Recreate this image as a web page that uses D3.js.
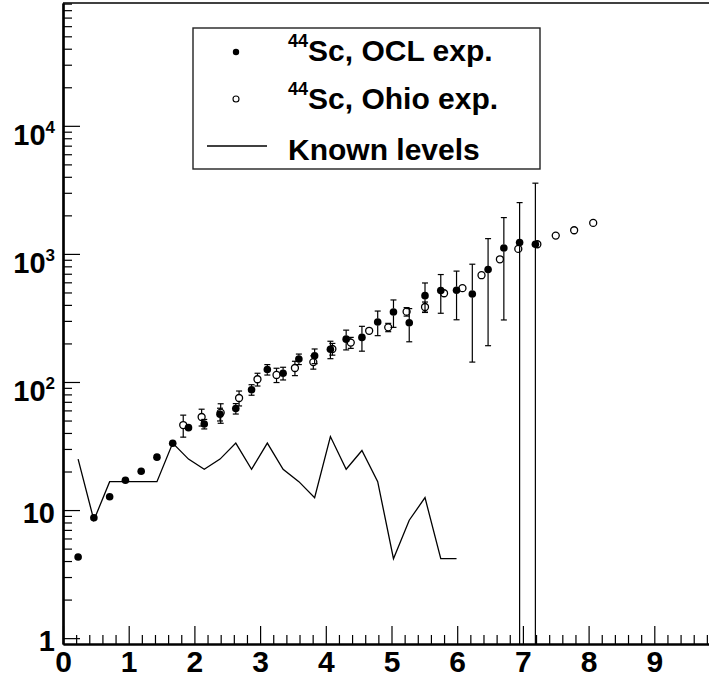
<!DOCTYPE html>
<html><head><meta charset="utf-8">
<script src="https://cdn.jsdelivr.net/npm/d3@7"></script>
<style>
html,body{margin:0;padding:0;background:#fff;}
svg{display:block;}
</style></head><body>
<svg id="chart" width="709" height="680"></svg>
<script>
// ---- data ----
const oclEnergy = [0.23,0.47,0.71,0.95,1.19,1.43,1.67,1.91,2.15,2.39,2.63,2.87,3.11,3.35,3.59,3.83,4.07,4.31,4.55,4.79,5.03,5.27,5.51,5.75,5.99,6.23,6.47,6.71,6.95,7.19];
const oclValue  = [4.3,8.7,12.7,17.1,20.1,25.9,33.2,44,47,56,62,87,125,117,151,160,180,216,223,294,352,290,472,517,520,487,754,1113,1225,1190];
const oclError  = [0,0,0,0,0,0,0,2,4,6.4,5.8,8.2,11.7,13.3,14.2,21,28,38,49,64,85,84,121,173,214,344,562,808,1290,2377];

const ohioEnergy = [1.83,2.11,2.40,2.68,2.96,3.25,3.53,3.81,4.10,4.38,4.66,4.95,5.23,5.51,5.80,6.08,6.37,6.65,6.93,7.22,7.50,7.78,8.07];
const ohioValue  = [46.1,53.3,57.6,75,105,113.5,128.6,143,181,203,251,267,354,385,493,540,682,908,1094,1190,1390,1530,1746];
const ohioError  = [9,8,10,10,12,14.5,16.5,17,19,20,15,20,27,36,0,0,0,0,0,0,0,0,0];

const knownEnergy = [0.23,0.47,0.71,0.95,1.19,1.43,1.67,1.91,2.15,2.39,2.63,2.87,3.11,3.35,3.59,3.83,4.07,4.31,4.55,4.79,5.03,5.27,5.51,5.75,5.99];
const knownValue  = [25,8.33,16.67,16.67,16.67,16.67,33.33,25,20.83,25,33.33,20.83,33.33,20.83,16.67,12.5,37.5,20.83,29.17,16.67,4.17,8.33,12.5,4.17,4.17];

const xTickValues = [0,1,2,3,4,5,6,7,8,9];
const xMinorTicks = [0.2,0.4,0.6,0.8,1.2,1.4,1.6,1.8,2.2,2.4,2.6,2.8,3.2,3.4,3.6,3.8,4.2,4.4,4.6,4.8,5.2,5.4,5.6,5.8,6.2,6.4,6.6,6.8,7.2,7.4,7.6,7.8,8.2,8.4,8.6,8.8,9.2,9.4,9.6,9.8];
const yTickValues = [1,10,100,1000,10000];
const yTickBase = ["1","10","10","10","10"];
const yTickExp  = ["","","2","3","4"];
const yMinorMantissa = [2,3,4,5,6,7,8,9];
const legendSup = ["44","44",""];
const legendText = ["Sc, OCL exp.","Sc, Ohio exp.","Known levels"];

// ---- drawing ----
const svg = d3.select("#chart");
const FONT = "'Liberation Sans Narrow','Liberation Sans',Arial,sans-serif";
const FONT2 = "'Liberation Sans',Arial,sans-serif";

const x = d3.scaleLinear().domain([0,10]).range([63,720]);
const y = d3.scaleLog().domain([0.9,91000]).range([644,3]);

const defs = svg.append("defs");
defs.append("clipPath").attr("id","plotclip").append("rect")
  .attr("x",63).attr("y",3).attr("width",657).attr("height",641);

const yMinor = [];
[1,10,100,1000,10000].forEach(dec => yMinorMantissa.forEach(m => { const v=m*dec; if (v<91000) yMinor.push(v); }));

const gxMinor = svg.append("g").attr("transform","translate(0,644)")
  .call(d3.axisBottom(x).tickValues(xMinorTicks).tickSizeInner(-9).tickSizeOuter(0).tickFormat(""));
const gxMajor = svg.append("g").attr("transform","translate(0,644)")
  .call(d3.axisBottom(x).tickValues(xTickValues).tickSizeInner(-18).tickSizeOuter(0).tickPadding(7).tickFormat(d => String(d)));
const gyMinor = svg.append("g").attr("transform","translate(63,0)")
  .call(d3.axisLeft(y).tickValues(yMinor).tickSizeInner(-9).tickSizeOuter(0).tickFormat(""));
const gyMajor = svg.append("g").attr("transform","translate(63,0)")
  .call(d3.axisLeft(y).tickValues(yTickValues).tickSizeInner(-17).tickSizeOuter(0).tickPadding(8).tickFormat(() => ""));

[gxMinor,gxMajor,gyMinor,gyMajor].forEach(g => {
  g.selectAll(".tick line").attr("stroke","#000").attr("stroke-width",1.2);
  g.select(".domain").attr("stroke","#000").attr("stroke-width",2.2);
});

gxMajor.selectAll(".tick text")
  .attr("font-family",FONT).attr("font-weight","bold").attr("font-size",30)
  .attr("fill","#000");

gyMajor.selectAll(".tick text").each(function(d,i){
  const t = d3.select(this).attr("dy",null).attr("font-family",FONT).attr("font-weight","bold").attr("fill","#000").attr("text-anchor","end");
  if (yTickExp[i]) {
    t.append("tspan").attr("font-size",29).attr("dy",19).text(yTickBase[i]);
    t.append("tspan").attr("font-size",17).attr("dy",-12).text(yTickExp[i]);
  } else {
    t.append("tspan").attr("font-size",29).attr("dy",12.5).text(yTickBase[i]);
  }
});

svg.append("line").attr("x1",63).attr("x2",720).attr("y1",3).attr("y2",3)
  .attr("stroke","#000").attr("stroke-width",1.6);

const plot = svg.append("g").attr("clip-path","url(#plotclip)");

const kn = knownEnergy.map((e,i)=>[e,knownValue[i]]);
plot.append("path").datum(kn)
  .attr("d", d3.line().x(d=>x(d[0])).y(d=>y(d[1])))
  .attr("fill","none").attr("stroke","#000").attr("stroke-width",1.3);

function drawErrors(E,V,Er,r){
  const g = plot.append("g").attr("stroke","#000").attr("stroke-width",1.2);
  E.forEach((e,i)=>{
    const v=V[i], er=Er[i];
    if (!er) return;
    const xc = x(e), yc = y(v), yt = y(v+er);
    const yb = (v-er>0.5) ? y(v-er) : 700;
    if (yc - r > yt) {
      g.append("line").attr("x1",xc).attr("x2",xc).attr("y1",yt).attr("y2",yc-r);
      g.append("line").attr("x1",xc-3).attr("x2",xc+3).attr("y1",yt).attr("y2",yt);
    }
    if (yb > yc + r) {
      g.append("line").attr("x1",xc).attr("x2",xc).attr("y1",yc+r).attr("y2",yb);
      if (yb < 700) g.append("line").attr("x1",xc-3).attr("x2",xc+3).attr("y1",yb).attr("y2",yb);
    }
  });
}
drawErrors(ohioEnergy,ohioValue,ohioError,3.6);
drawErrors(oclEnergy,oclValue,oclError,3.6);

plot.append("g").selectAll("circle").data(oclEnergy).join("circle")
  .attr("cx",(d)=>x(d)).attr("cy",(d,i)=>y(oclValue[i])).attr("r",3.8).attr("fill","#000");
plot.append("g").selectAll("circle").data(ohioEnergy).join("circle")
  .attr("cx",(d)=>x(d)).attr("cy",(d,i)=>y(ohioValue[i])).attr("r",3.5)
  .attr("fill","none").attr("stroke","#000").attr("stroke-width",1.3);

const lg = svg.append("g");
lg.append("rect").attr("x",193).attr("y",28).attr("width",347).attr("height",141)
  .attr("fill","#fff").attr("stroke","#222").attr("stroke-width",1.4);
lg.append("circle").attr("cx",236).attr("cy",52).attr("r",3.2).attr("fill","#000");
lg.append("circle").attr("cx",236).attr("cy",99).attr("r",3).attr("fill","none").attr("stroke","#000").attr("stroke-width",1.1);
lg.append("line").attr("x1",207).attr("x2",267).attr("y1",146).attr("y2",146).attr("stroke","#000").attr("stroke-width",1.3);
const baselines = [61,109,160];
legendText.forEach((s,i)=>{
  const t = lg.append("text").attr("x",288).attr("y",baselines[i])
    .attr("font-family",FONT2).attr("font-weight","bold").attr("fill","#000");
  if (legendSup[i]) {
    t.append("tspan").attr("font-size",18).attr("dy",-14).text(legendSup[i]);
    t.append("tspan").attr("font-size",30).attr("dy",14).text(s);
  } else {
    t.append("tspan").attr("font-size",30).text(s);
  }
});
</script>
</body></html>
